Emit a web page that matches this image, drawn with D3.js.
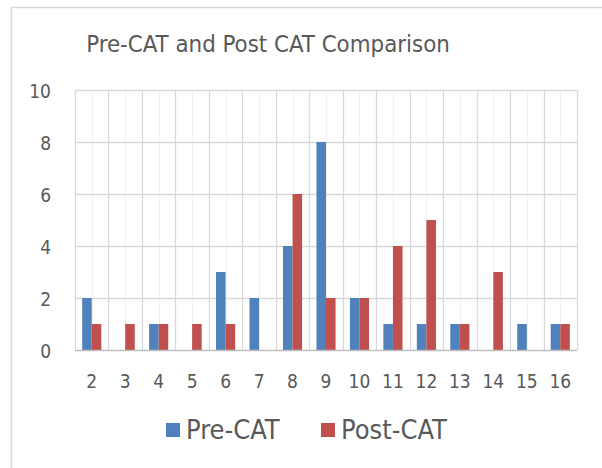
<!DOCTYPE html>
<html>
<head>
<meta charset="utf-8">
<script src="https://cdn.jsdelivr.net/npm/d3@7"></script>
<style>
  body { margin: 0; background: #fff; }
  text { font-family: "DejaVu Sans Condensed", "DejaVu Sans", sans-serif; fill: #595959; }
</style>
</head>
<body>
<script>
// chart data
var categories = ["2", "3", "4", "5", "6", "7", "8", "9", "10", "11", "12", "13", "14", "15", "16"];
var preCat  = [2, 0, 1, 0, 3, 2, 4, 8, 2, 1, 1, 1, 0, 1, 1];
var postCat = [1, 1, 1, 1, 1, 0, 6, 2, 2, 4, 5, 1, 3, 0, 1];
var seriesNames = ["Pre-CAT", "Post-CAT"];
var yTicks = [0, 2, 4, 6, 8, 10];

var colors = ["#4f81bd", "#c0504d"];
var width = 602, height = 468;
var margin = {top: 90, right: 25, bottom: 118, left: 75};
var plotW = width - margin.left - margin.right,
    plotH = height - margin.top - margin.bottom;

var svg = d3.select("body").append("svg")
    .attr("width", width)
    .attr("height", height);

// outer chart border
svg.append("rect")
    .attr("x", 11.5).attr("y", 7.5)
    .attr("width", 610).attr("height", 480)
    .attr("fill", "none")
    .attr("stroke", "#d9d9d9")
    .attr("stroke-width", 1.5);

// title
svg.append("text")
    .attr("x", 268).attr("y", 52)
    .attr("text-anchor", "middle")
    .style("font-size", "23.8px")
    .text("Pre-CAT and Post CAT Comparison");

var g = svg.append("g")
    .attr("transform", "translate(" + margin.left + "," + margin.top + ")");

var x0 = d3.scaleBand().domain(categories).range([0, plotW]).padding(0);
var x1 = d3.scaleBand().domain(seriesNames).range([0, x0.bandwidth()])
    .paddingInner(0).paddingOuter(0.75);
var y = d3.scaleLinear().domain([0, 10]).range([plotH, 0]);

// minor vertical gridlines at category centres
g.selectAll(".vminor")
    .data(categories)
  .enter().append("line")
    .attr("x1", function(d) { return Math.round(x0(d) + x0.bandwidth() / 2) + 0.5; })
    .attr("x2", function(d) { return Math.round(x0(d) + x0.bandwidth() / 2) + 0.5; })
    .attr("y1", 0).attr("y2", plotH)
    .attr("stroke", "#f0f0f0").attr("stroke-width", 1.2);

// major vertical gridlines at category edges
var edges = categories.map(function(d) { return x0(d); }).concat([plotW]);
g.selectAll(".vmajor")
    .data(edges)
  .enter().append("line")
    .attr("x1", function(d) { return Math.round(d) + 0.5; })
    .attr("x2", function(d) { return Math.round(d) + 0.5; })
    .attr("y1", 0).attr("y2", plotH)
    .attr("stroke", "#d9d9d9").attr("stroke-width", 1.3);

// horizontal gridlines
g.selectAll(".hgrid")
    .data(yTicks.slice(1))
  .enter().append("line")
    .attr("x1", 0).attr("x2", plotW)
    .attr("y1", function(d) { return Math.round(y(d)) + 0.5; })
    .attr("y2", function(d) { return Math.round(y(d)) + 0.5; })
    .attr("stroke", "#d9d9d9").attr("stroke-width", 1.3);

// bars
var rows = categories.map(function(c, i) {
  return {cat: c, values: [{key: seriesNames[0], v: preCat[i]}, {key: seriesNames[1], v: postCat[i]}]};
});
var groups = g.selectAll(".grp")
    .data(rows)
  .enter().append("g")
    .attr("transform", function(d) { return "translate(" + x0(d.cat) + ",0)"; });
groups.selectAll("rect")
    .data(function(d) { return d.values.filter(function(v) { return v.v > 0; }); })
  .enter().append("rect")
    .attr("x", function(d) { return x1(d.key); })
    .attr("width", x1.bandwidth())
    .attr("y", function(d) { return y(d.v); })
    .attr("height", function(d) { return plotH - y(d.v); })
    .attr("fill", function(d) { return colors[seriesNames.indexOf(d.key)]; });

// x axis line
g.append("line")
    .attr("x1", 0).attr("x2", plotW)
    .attr("y1", plotH + 0.5).attr("y2", plotH + 0.5)
    .attr("stroke", "#bfbfbf").attr("stroke-width", 1.5);

// y axis labels
var yAxis = g.append("g").call(d3.axisLeft(y).tickValues(yTicks).tickSize(0));
yAxis.select(".domain").remove();
yAxis.selectAll("text")
    .attr("x", -24)
    .attr("dy", "0.37em")
    .attr("text-anchor", "end")
    .style("text-anchor", "end")
    .attr("fill", "#595959")
    .style("font-family", "'DejaVu Sans Condensed', 'DejaVu Sans', sans-serif")
    .style("font-size", "19px");

// x axis labels
var xAxis = g.append("g")
    .attr("transform", "translate(0," + plotH + ")")
    .call(d3.axisBottom(x0).tickSize(0));
xAxis.select(".domain").remove();
xAxis.selectAll("text")
    .attr("y", 38)
    .attr("dy", 0)
    .style("text-anchor", "middle")
    .attr("fill", "#595959")
    .style("font-family", "'DejaVu Sans Condensed', 'DejaVu Sans', sans-serif")
    .style("font-size", "19px");

// legend
var legendX = [166, 321];
var legend = svg.selectAll(".legend")
    .data(seriesNames)
  .enter().append("g")
    .attr("transform", function(d, i) { return "translate(" + legendX[i] + ",423)"; });
legend.append("rect")
    .attr("width", 14).attr("height", 14)
    .attr("fill", function(d, i) { return colors[i]; });
legend.append("text")
    .attr("x", 20).attr("y", 15.5)
    .style("font-size", "27px")
    .text(function(d) { return d; });
</script>
</body>
</html>
